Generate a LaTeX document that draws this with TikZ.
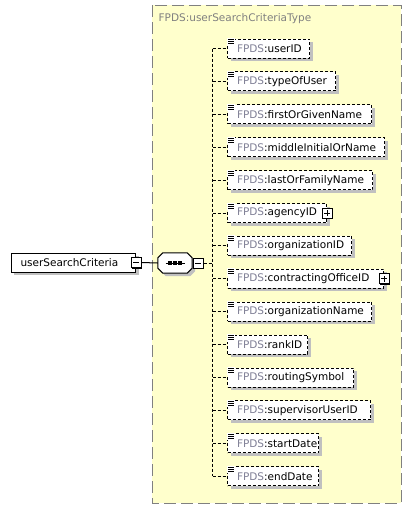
\documentclass[tikz,border=0pt]{standalone}
\usepackage{fontspec}
\setmainfont{DejaVu Sans}
\definecolor{yel}{RGB}{255,255,204}
\definecolor{cgray}{RGB}{128,128,128}
\definecolor{shgray}{RGB}{192,192,192}
\definecolor{pfx}{RGB}{128,128,150}
\newcommand\el[2]{\makebox[#1pt][l]{\hspace{9.5pt}\textcolor{pfx}{FPDS}:#2}}
\begin{document}
\begin{tikzpicture}[x=1pt,y=-1pt, font=\fontsize{10.5}{12}\selectfont,
 shadowed/.style={preaction={draw=none,fill=shgray,transform canvas={shift={(3pt,-3pt)}}}},
 elem/.style={shadowed, draw=black, fill=white, line width=1pt, dash pattern=on 3pt off 2pt, anchor=west, inner xsep=0pt, inner ysep=0pt, minimum height=19pt},
 rootbox/.style={shadowed, draw=black, fill=white, line width=1pt, inner sep=0pt, minimum height=19pt, anchor=west},
 pm/.style={draw=black, fill=white, line width=1pt, minimum size=10pt, inner sep=0pt, preaction={draw=none,fill=black,transform canvas={shift={(1pt,-1pt)}}}},
 conn/.style={line width=1pt, dash pattern=on 3pt off 2pt},
 solidline/.style={line width=1pt}
]
\useasboundingbox (0,0) rectangle (412,509);
\fill[white] (0,0) rectangle (412,509);
% container
\draw[fill=yel, draw=cgray, line width=1pt, dash pattern=on 12pt off 5pt] (152,5) rectangle (401,503);
\node[anchor=west, text=cgray, inner sep=0pt] (title) at (158.5,19) {FPDS:userSearchCriteriaType};
% root element
\node[rootbox] (usc) at (10.5,262.5) {\makebox[124.5pt][l]{\hspace{9.5pt}userSearchCriteria}};
\node[pm] (m0) at (usc.east) {};
\draw[solidline] ([xshift=-3pt]m0.center) -- ([xshift=3pt]m0.center);
% sequence compositor
\node[minimum width=34pt, minimum height=20pt, inner sep=0pt] (seq) at (175,263) {};
\draw[shadowed, fill=white, line width=1pt]
  ([xshift=5pt]seq.north west) -- ([xshift=-5pt]seq.north east) -- ([yshift=-5pt]seq.north east)
  -- ([yshift=5pt]seq.south east) -- ([xshift=-5pt]seq.south east) -- ([xshift=5pt]seq.south west)
  -- ([yshift=5pt]seq.south west) -- ([yshift=-5pt]seq.north west) -- cycle;
\draw[solidline] ([xshift=-9.5pt]seq.center) -- ([xshift=9.5pt]seq.center);
\foreach \dx in {-5,0,5} \fill ([xshift=\dx pt]seq.center) ++(-1.6,-1.6) rectangle ++(3.2,3.2);
\node[pm, anchor=west] (m1) at ([xshift=0.5pt]seq.east) {};
\draw[solidline] ([xshift=-3pt]m1.center) -- ([xshift=3pt]m1.center);
\draw[solidline] (m0.east) -- (seq.west);
% children
\coordinate (bus) at (212.5,0);
\foreach \w/\t [count=\i] in {82/userID, 108/typeOfUser, 144/firstOrGivenName, 157/middleInitialOrName, 145/lastOrFamilyName, 99/agencyID, 124/organizationID, 156/contractingOfficeID, 144/organizationName, 80/rankID, 126/routingSymbol, 143/supervisorUserID, 91/startDate, 91/endDate}{
  \node[elem] (n\i) at (227,{48.5+32.9*(\i-1)}) {\el{\w}{\t}};
  \fill[yel] ([shift={(-1pt,1pt)}]n\i.north west) rectangle ++(9,8);
  \fill[white] ([shift={(-0.5pt,0.5pt)}]n\i.north west) rectangle ++(8.5,7.5);
  \draw[line width=0.9pt] ([shift={(1pt,-1pt)}]n\i.north west) -- ++(6,0) ++(-6,2) -- ++(6,0) ++(-6,2) -- ++(6,0);
  \draw[conn] (n\i.west -| bus) -- (n\i.west);
}
\draw[conn] (n1.west -| bus) -- (n14.west -| bus);
\draw[conn] (m1.east) -- (m1.east -| bus);
% expand icons
\foreach \j in {6,8}{
  \node[pm] (p\j) at (n\j.east) {};
  \draw[solidline] ([xshift=-3pt]p\j.center) -- ([xshift=3pt]p\j.center);
  \draw[solidline] ([yshift=-3pt]p\j.center) -- ([yshift=3pt]p\j.center);
}
\end{tikzpicture}
\end{document}
